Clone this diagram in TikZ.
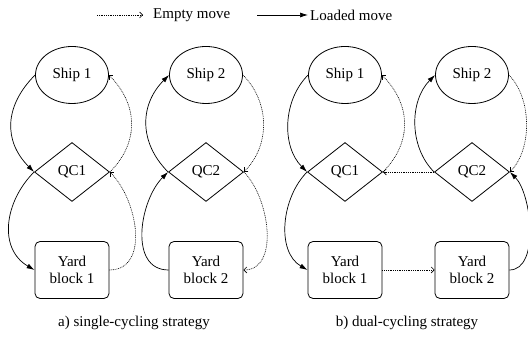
\documentclass[tikz,border=0pt]{standalone}
\usepackage{fontspec}
\newfontfamily\diagfont{Liberation Serif}
\usetikzlibrary{shapes.geometric,arrows.meta}

\begin{document}
\begin{tikzpicture}[x=1pt, y=1pt, font=\diagfont\fontsize{15}{17}\selectfont,
    ship/.style={draw, ellipse, line width=0.8pt, minimum width=73pt, minimum height=57pt},
    qc/.style={draw, diamond, line width=0.8pt, inner sep=0pt, minimum width=75pt, minimum height=59pt},
    yard/.style={draw, rounded corners=5pt, line width=0.8pt, minimum width=74pt, minimum height=57pt, align=center},
    loadedmove/.style={-{Latex[length=8pt,width=5pt]}, line width=0.7pt},
    emptymove/.style={-{Straight Barb[length=3pt,width=6pt]}, line width=0.6pt, dash pattern=on 0.9pt off 0.9pt}]
    \useasboundingbox (0,0) rectangle (528,344);

    % Legend
    \coordinate (emptyfrom) at (97,329);
    \coordinate (emptyto) at (143,329);
    \node[anchor=west, inner sep=0pt] (emptytxt) at (153,329) {Empty move};
    \coordinate (loadedfrom) at (257,329);
    \coordinate (loadedto) at (308,329);
    \node[anchor=west, inner sep=0pt] (loadedtxt) at (310,329) {Loaded move};
    \draw[emptymove] (emptyfrom) -- (emptyto);
    \draw[loadedmove] (loadedfrom) -- (loadedto);

    % a) single-cycling
    \node[ship] (ship1a) at (72,269) {Ship 1};
    \node[qc] (qc1a) at (72,172) {QC1};
    \node[yard] (yard1a) at (72,74) {Yard\\block 1};
    \node[ship] (ship2a) at (206,269) {Ship 2};
    \node[qc] (qc2a) at (206,172) {QC2};
    \node[yard] (yard2a) at (206,74) {Yard\\block 2};

    \draw[loadedmove] (ship1a.west) to[out=225, in=135, looseness=1.15] (qc1a.west);
    \draw[loadedmove] (qc1a.west) to[out=225, in=150, looseness=1.1] (yard1a.west);
    \draw[emptymove] (yard1a.east) to[out=0, in=-45, looseness=1.05] (qc1a.east);
    \draw[emptymove] (qc1a.east) to[out=45, in=-45, looseness=1.1] (ship1a.east);

    \draw[loadedmove] (qc2a.west) to[out=135, in=225, looseness=1.1] (ship2a.west);
    \draw[loadedmove] (yard2a.west) to[out=180, in=225, looseness=1.05] (qc2a.west);
    \draw[emptymove] (ship2a.east) to[out=-45, in=45, looseness=1.0] (qc2a.east);
    \draw[emptymove] (qc2a.east) to[out=-45, in=0, looseness=0.95] (yard2a.east);

    % b) dual-cycling
    \node[ship] (ship1b) at (345,269) {Ship 1};
    \node[qc] (qc1b) at (345,172) {QC1};
    \node[yard] (yard1b) at (345,74) {Yard\\block 1};
    \node[ship] (ship2b) at (472,269) {Ship 2};
    \node[qc] (qc2b) at (472,172) {QC2};
    \node[yard] (yard2b) at (472,74) {Yard\\block 2};

    \draw[loadedmove] (ship1b.west) to[out=225, in=135, looseness=0.95] (qc1b.west);
    \draw[loadedmove] (qc1b.west) to[out=225, in=150, looseness=0.95] (yard1b.west);
    \draw[emptymove] (qc1b.east) to[out=45, in=-45, looseness=1.1] (ship1b.east);
    \draw[emptymove] (qc2b.west) -- (qc1b.east);
    \draw[emptymove] (yard1b.east) -- (yard2b.west);

    \draw[loadedmove] (qc2b.west) to[out=135, in=225, looseness=0.95] (ship2b.west);
    \draw[loadedmove] (yard2b.east) to[out=0, in=-45, looseness=0.8] (qc2b.east);
    \draw[emptymove] (ship2b.east) to[out=-45, in=45, looseness=0.85] (qc2b.east);

    % Captions
    \node (capa) at (134,21) {a) single-cycling strategy};
    \node (capb) at (407,21) {b) dual-cycling strategy};
\end{tikzpicture}
\end{document}
